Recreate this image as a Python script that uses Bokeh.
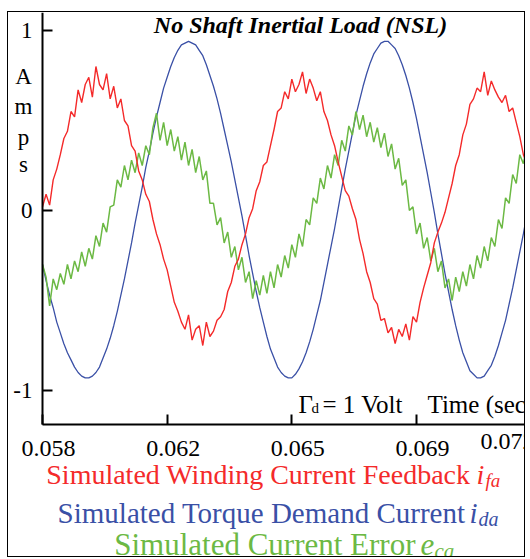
from bokeh.plotting import figure
from bokeh.models import Label, FixedTicker, Range1d
from bokeh.embed import file_html
from bokeh.resources import INLINE

# ---- data ----
T0 = 0.058
DT = 0.0001
N = 137
time_s = [round(T0 + DT * i, 5) for i in range(N)]

demand_ida = [
    -0.30, -0.39, -0.47, -0.54, -0.62, -0.68, -0.74, -0.79, -0.83, -0.87,
    -0.90, -0.92, -0.93, -0.93, -0.92, -0.90, -0.87, -0.82, -0.77, -0.71,
    -0.64, -0.56, -0.47, -0.38, -0.28, -0.18, -0.07, 0.03, 0.13, 0.24,
    0.33, 0.43, 0.52, 0.60, 0.68, 0.74, 0.80, 0.85, 0.89, 0.92,
    0.93, 0.94, 0.93, 0.92, 0.89, 0.86, 0.81, 0.75, 0.69, 0.62,
    0.54, 0.45, 0.36, 0.27, 0.17, 0.07, -0.03, -0.14, -0.25, -0.35,
    -0.45, -0.54, -0.62, -0.70, -0.77, -0.82, -0.87, -0.90, -0.92, -0.93,
    -0.93, -0.91, -0.88, -0.84, -0.79, -0.73, -0.66, -0.58, -0.50, -0.40,
    -0.30, -0.20, -0.10, 0.01, 0.12, 0.23, 0.33, 0.43, 0.53, 0.61,
    0.69, 0.76, 0.82, 0.87, 0.90, 0.93, 0.94, 0.94, 0.92, 0.90,
    0.86, 0.81, 0.75, 0.68, 0.60, 0.51, 0.41, 0.31, 0.21, 0.10,
    -0.01, -0.13, -0.24, -0.35, -0.45, -0.55, -0.64, -0.72, -0.79, -0.84,
    -0.89, -0.91, -0.93, -0.93, -0.92, -0.89, -0.86, -0.81, -0.75, -0.68,
    -0.61, -0.52, -0.43, -0.33, -0.23, -0.13, -0.02,
]

feedback_ifa = [
    0.02, 0.09, 0.03, 0.17, 0.23, 0.31, 0.40, 0.44, 0.55, 0.52,
    0.67, 0.60, 0.70, 0.74, 0.63, 0.80, 0.70, 0.67, 0.76, 0.62,
    0.69, 0.57, 0.62, 0.50, 0.47, 0.36, 0.33, 0.22, 0.17, 0.09,
    0.05, -0.05, -0.13, -0.19, -0.27, -0.33, -0.42, -0.51, -0.56, -0.62,
    -0.66, -0.58, -0.72, -0.66, -0.64, -0.75, -0.62, -0.70, -0.67, -0.61,
    -0.59, -0.55, -0.45, -0.40, -0.31, -0.27, -0.19, -0.13, -0.04, 0.01,
    0.11, 0.16, 0.25, 0.27, 0.36, 0.45, 0.55, 0.57, 0.66, 0.62,
    0.73, 0.66, 0.70, 0.77, 0.65, 0.73, 0.68, 0.61, 0.66, 0.55,
    0.50, 0.42, 0.36, 0.27, 0.19, 0.11, 0.08, 0.01, -0.05, -0.16,
    -0.24, -0.34, -0.40, -0.49, -0.52, -0.61, -0.60, -0.68, -0.65, -0.74,
    -0.66, -0.70, -0.63, -0.72, -0.59, -0.62, -0.51, -0.43, -0.36, -0.29,
    -0.18, -0.12, -0.07, -0.01, 0.07, 0.15, 0.25, 0.31, 0.42, 0.48,
    0.59, 0.62, 0.68, 0.66, 0.77, 0.64, 0.72, 0.67, 0.63, 0.60,
    0.64, 0.55, 0.57, 0.49, 0.41, 0.31, 0.26,
]

error_eca = [
    -0.30, -0.37, -0.53, -0.38, -0.44, -0.35, -0.41, -0.30, -0.38, -0.28,
    -0.34, -0.23, -0.31, -0.21, -0.27, -0.14, -0.20, -0.07, -0.12, 0.02,
    0.03, 0.17, 0.13, 0.25, 0.17, 0.28, 0.21, 0.32, 0.25, 0.36,
    0.31, 0.46, 0.54, 0.39, 0.49, 0.36, 0.45, 0.33, 0.41, 0.28,
    0.38, 0.25, 0.34, 0.21, 0.30, 0.17, 0.22, 0.04, 0.04, -0.08,
    -0.04, -0.18, -0.12, -0.26, -0.20, -0.33, -0.26, -0.40, -0.34, -0.49,
    -0.39, -0.47, -0.36, -0.46, -0.34, -0.43, -0.30, -0.37, -0.25, -0.32,
    -0.19, -0.26, -0.13, -0.20, -0.05, -0.08, 0.07, 0.04, 0.18, 0.12,
    0.25, 0.18, 0.31, 0.25, 0.39, 0.33, 0.47, 0.42, 0.55, 0.45,
    0.53, 0.41, 0.49, 0.38, 0.46, 0.35, 0.43, 0.30, 0.37, 0.23,
    0.29, 0.14, 0.17, 0.00, 0.02, -0.13, -0.07, -0.21, -0.15, -0.28,
    -0.21, -0.34, -0.28, -0.43, -0.38, -0.50, -0.37, -0.45, -0.34, -0.42,
    -0.30, -0.38, -0.25, -0.32, -0.20, -0.28, -0.15, -0.20, -0.05, -0.10,
    0.07, 0.04, 0.20, 0.15, 0.31, 0.26, 0.36,
]

x_ticks = [0.058, 0.0615, 0.065, 0.0685]
x_tick_labels = ["0.058", "0.062", "0.065", "0.069"]
y_ticks = [-1, 0, 1]
y_tick_labels = ["-1", "0", "1"]

RED = "#f42a2a"
BLUE = "#3a50a6"
GREEN = "#6cb944"
SERIF = "Liberation Serif"

# frame = whole canvas; axes drawn at fixed locations inside it
p = figure(width=518, height=546, output_backend="svg", toolbar_location=None,
           x_range=Range1d(0.0570455, 0.071588), y_range=Range1d(-1.9333, 1.1),
           min_border=0)
p.styles = {"border": "1px solid black", "margin-top": "11px", "margin-left": "7px"}
p.outline_line_color = None
p.grid.visible = False
p.background_fill_color = "white"
p.border_fill_color = "white"

p.line(time_s, demand_ida, line_color=BLUE, line_width=1.3)
p.line(time_s, error_eca, line_color=GREEN, line_width=1.5)
p.line(time_s, feedback_ifa, line_color=RED, line_width=1.4)

for ax in (p.xaxis[0], p.yaxis[0]):
    ax.axis_line_width = 2
    ax.major_tick_line_width = 2
    ax.major_tick_in = 10
    ax.major_tick_out = 0
    ax.minor_tick_line_color = None
    ax.major_label_text_font = SERIF
    ax.major_label_text_font_size = "24px"
    ax.major_label_text_color = "black"

p.xaxis.fixed_location = -1.189
p.xaxis.bounds = (0.058, 0.071588)
p.xaxis.ticker = FixedTicker(ticks=x_ticks)
# an en space in front shifts each label ~6px right, as in the reference
p.xaxis.major_label_overrides = {t: "\u2002" + s for t, s in zip(x_ticks, x_tick_labels)}
p.xaxis.major_label_standoff = 10
p.yaxis.fixed_location = 0.058
p.yaxis.bounds = (-1.189, 1.1)
p.yaxis.ticker = FixedTicker(ticks=y_ticks)
p.yaxis.major_label_overrides = {t: s for t, s in zip(y_ticks, y_tick_labels)}
p.yaxis.major_label_standoff = 10
p.yaxis.major_label_text_font_size = "23px"


def lab(text, sx, sy, size, color="black", style="normal", align="left"):
    p.add_layout(Label(x=sx, y=sy, x_units="screen", y_units="screen", text=text,
                       text_font=SERIF, text_font_size=size, text_font_style=style,
                       text_color=color, text_align=align, text_baseline="alphabetic"))

# screen units measured from the frame's lower-left corner
lab("No Shaft Inertial Load (NSL)", 292, 534, "24px", style="bold italic", align="center")
for ch, sy in zip("Amps", [482, 452, 421, 394]):
    lab(ch, 15, sy, "23px", align="center")
lab("\u0393", 290, 154, "25px")
lab("d", 303, 151, "15px")
lab("= 1 Volt", 314, 154, "25px")
lab("Time (secs)", 419, 154, "25px")
lab("0.072", 472, 117, "24px")

lab("Simulated Winding Current Feedback", 462, 84, "28px", color=RED, align="right")
lab("i", 468, 84, "28px", color=RED, style="italic")
lab("fa", 477, 78, "19px", color=RED, style="italic")
lab("Simulated Torque Demand Current", 457, 46, "29px", color=BLUE, align="right")
lab("i", 461, 46, "29px", color=BLUE, style="italic")
lab("da", 470, 40, "20px", color=BLUE, style="italic")
lab("Simulated Current Error", 407, 14, "31px", color=GREEN, align="right")
lab("e", 412, 14, "31px", color=GREEN, style="italic")
lab("ca", 426, 8, "21px", color=GREEN, style="italic")

open("out.html", "w").write(file_html(p, INLINE))
